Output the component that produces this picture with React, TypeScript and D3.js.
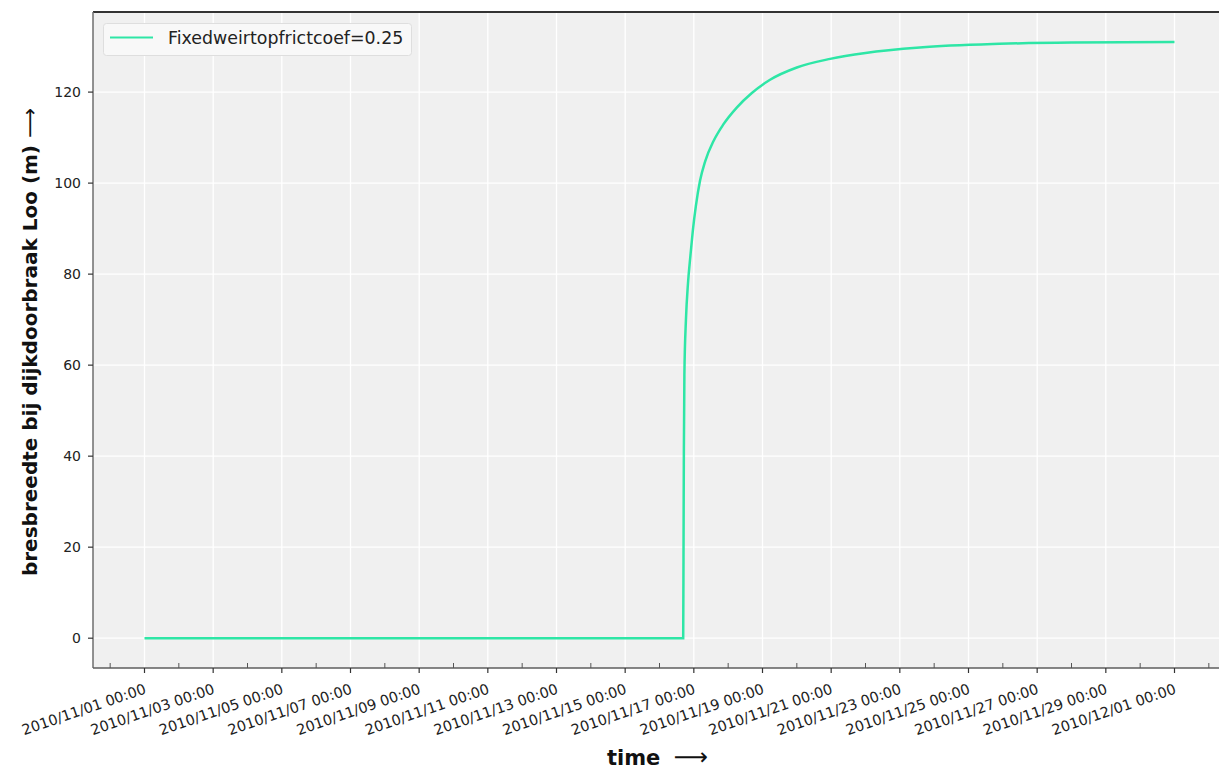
import React, { useEffect, useRef } from 'react';
import * as d3 from 'd3';

// breach width time series (UTC)
const TIMES = [
  '2010-11-01 00:00',
  '2010-11-16 16:34',
  '2010-11-16 16:48',
  '2010-11-16 17:02',
  '2010-11-16 17:24',
  '2010-11-16 18:29',
  '2010-11-16 19:55',
  '2010-11-16 21:36',
  '2010-11-16 23:17',
  '2010-11-17 01:26',
  '2010-11-17 04:19',
  '2010-11-17 07:55',
  '2010-11-17 13:41',
  '2010-11-17 20:38',
  '2010-11-18 06:00',
  '2010-11-18 16:34',
  '2010-11-19 05:17',
  '2010-11-20 00:00',
  '2010-11-20 23:17',
  '2010-11-22 00:00',
  '2010-11-23 13:55',
  '2010-11-25 21:36',
  '2010-11-28 00:00',
  '2010-12-01 00:00',
];
const WIDTHS = [
  0, 0, 20, 41, 58, 70, 78, 84, 89.5, 95, 100.5, 104.8, 109.2,
  112.9, 116.6, 119.8, 122.7, 125.4, 127.3, 128.6, 129.8, 130.6, 130.9, 131.0,
];

const SERIES_LABEL = 'Fixedweirtopfrictcoef=0.25';
const Y_TICKS = [0, 20, 40, 60, 80, 100, 120];
const X_DOMAIN = ['2010-10-30 12:00', '2010-12-02 12:00'];
const Y_DOMAIN = [-6.55, 137.6];

const W = 1219;
const H = 770;
const FONT = '"DejaVu Sans", sans-serif';
const LINE_COLOR = '#2ee6a6';

const App = () => {
  const ref = useRef<SVGSVGElement>(null);

  useEffect(() => {
    const parse = d3.utcParse('%Y-%m-%d %H:%M');
    const fmt = d3.utcFormat('%Y/%m/%d %H:%M');
    const data = TIMES.map((t, i) => ({ t: parse(t) as Date, v: WIDTHS[i] }));

    const left = 93, right = 1226, top = 12, bottom = 668;
    const x = d3.scaleUtc().domain(X_DOMAIN.map(d => parse(d) as Date)).range([left, right]);
    const y = d3.scaleLinear().domain(Y_DOMAIN).range([bottom, top]);

    const svg = d3.select(ref.current);
    svg.selectAll('*').remove();

    // plot background
    svg.append('rect')
      .attr('x', left).attr('y', top)
      .attr('width', right - left).attr('height', bottom - top)
      .attr('fill', '#f0f0f0');

    const majors = d3.utcDay.every(2)!.range(parse('2010-11-01 00:00')!, parse('2010-12-02 00:00')!);
    const minors = d3.utcDay.range(parse('2010-10-31 00:00')!, parse('2010-12-03 00:00')!)
      .filter(d => !majors.some(m => +m === +d));

    // grid
    const grid = svg.append('g').attr('stroke', '#ffffff').attr('stroke-width', 1.3);
    grid.selectAll('line.gx').data(majors).enter().append('line')
      .attr('x1', d => x(d)).attr('x2', d => x(d))
      .attr('y1', top).attr('y2', bottom);
    grid.selectAll('line.gy').data(Y_TICKS).enter().append('line')
      .attr('x1', left).attr('x2', right)
      .attr('y1', d => y(d)).attr('y2', d => y(d));

    // series
    const line = d3.line<{ t: Date; v: number }>()
      .x(d => x(d.t))
      .y(d => y(d.v))
      .curve(d3.curveMonotoneX);
    svg.append('path')
      .datum(data)
      .attr('d', line)
      .attr('fill', 'none')
      .attr('stroke', LINE_COLOR)
      .attr('stroke-width', 2.5);

    // spines
    svg.append('line').attr('x1', left).attr('x2', right).attr('y1', top).attr('y2', top)
      .attr('stroke', '#333').attr('stroke-width', 2);
    svg.append('line').attr('x1', left).attr('x2', left).attr('y1', top).attr('y2', bottom)
      .attr('stroke', '#6e6e6e').attr('stroke-width', 1.5);
    svg.append('line').attr('x1', left).attr('x2', right).attr('y1', bottom).attr('y2', bottom)
      .attr('stroke', '#5e5e5e').attr('stroke-width', 1.5);

    // y ticks
    const yAx = svg.append('g');
    yAx.selectAll('line').data(Y_TICKS).enter().append('line')
      .attr('x1', left - 5).attr('x2', left)
      .attr('y1', d => y(d)).attr('y2', d => y(d))
      .attr('stroke', '#333').attr('stroke-width', 1.2);
    yAx.selectAll('text').data(Y_TICKS).enter().append('text')
      .attr('x', left - 12).attr('y', d => y(d)).attr('dy', '0.36em')
      .attr('text-anchor', 'end')
      .attr('font-family', FONT).attr('font-size', 14).attr('fill', '#222')
      .text(d => d);

    // x ticks: majors outward, minors inward
    const xAx = svg.append('g');
    xAx.selectAll('line.maj').data(majors).enter().append('line')
      .attr('x1', d => x(d)).attr('x2', d => x(d))
      .attr('y1', bottom).attr('y2', bottom + 5)
      .attr('stroke', '#333').attr('stroke-width', 1.2);
    xAx.selectAll('line.min').data(minors).enter().append('line')
      .attr('x1', d => x(d)).attr('x2', d => x(d))
      .attr('y1', bottom).attr('y2', bottom - 5)
      .attr('stroke', '#555').attr('stroke-width', 1);
    xAx.selectAll('text').data(majors).enter().append('text')
      .attr('transform', d => `translate(${x(d) - 1},${bottom + 15}) rotate(-19)`)
      .attr('dy', '0.72em')
      .attr('text-anchor', 'end')
      .attr('font-family', FONT).attr('font-size', 14.5).attr('fill', '#222')
      .text(d => fmt(d));

    // axis labels
    const yl = svg.append('text')
      .attr('transform', `translate(37,${(top + bottom) / 2 + 2}) rotate(-90)`)
      .attr('text-anchor', 'middle')
      .attr('font-family', FONT).attr('font-size', 20).attr('font-weight', 'bold').attr('fill', '#111');
    yl.append('tspan').text('bresbreedte bij dijkdoorbraak Loo (m) ');
    yl.append('tspan').attr('font-weight', 'normal').attr('font-size', 21).text('⟶');

    const xl = svg.append('text')
      .attr('x', (left + right) / 2 - 2).attr('y', 765)
      .attr('text-anchor', 'middle')
      .attr('font-family', FONT).attr('font-size', 21).attr('font-weight', 'bold').attr('fill', '#111');
    xl.append('tspan').text('time ');
    xl.append('tspan').attr('font-weight', 'normal').attr('font-size', 24).attr('dx', 6).text('⟶');

    // legend
    const lg = svg.append('g');
    lg.append('rect')
      .attr('x', 103.5).attr('y', 23.5).attr('width', 308).attr('height', 32).attr('rx', 3)
      .attr('fill', '#f8f8f8').attr('stroke', '#dedede').attr('stroke-width', 1);
    lg.append('line').attr('x1', 110).attr('x2', 153).attr('y1', 37.5).attr('y2', 37.5)
      .attr('stroke', LINE_COLOR).attr('stroke-width', 2.2);
    lg.append('text')
      .attr('x', 168).attr('y', 44)
      .attr('font-family', FONT).attr('font-size', 17.4).attr('fill', '#222')
      .text(SERIES_LABEL);
  }, []);

  return (
    <svg ref={ref} width={W} height={H}
      style={{ position: 'absolute', left: 0, top: 0, background: '#fff' }} />
  );
};

export default App;
